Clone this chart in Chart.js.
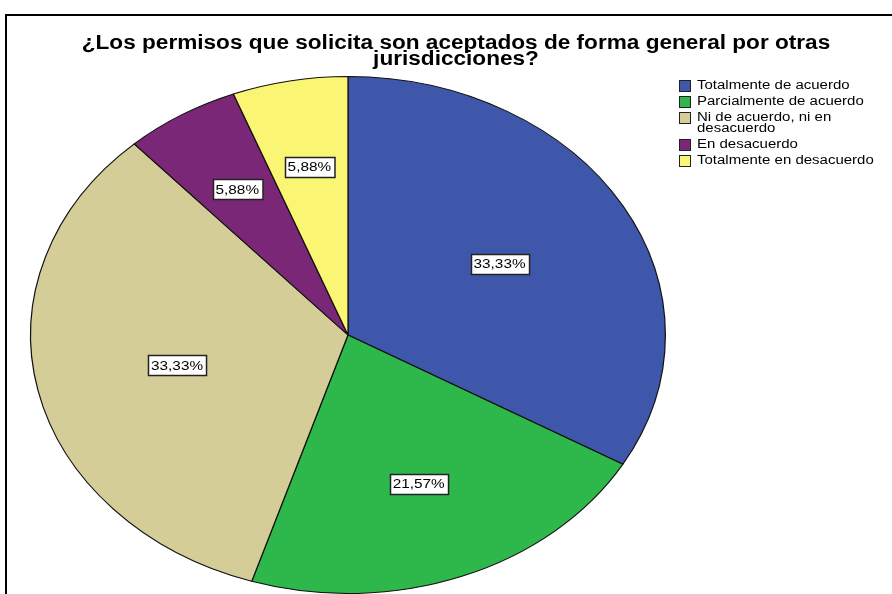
<!DOCTYPE html>
<html>
<head>
<meta charset="utf-8">
<script src="https://cdn.jsdelivr.net/npm/chart.js@4.4.0/dist/chart.umd.min.js"></script>
<style>
  body { margin: 0; background: #fff; font-family: "Liberation Sans", Arial, sans-serif; }
  #wrap { position: relative; width: 892px; height: 594px; overflow: hidden; }
  #frame { position: absolute; left: 5px; top: 14px; width: 900px; height: 600px; border-left: 2px solid #000; border-top: 2px solid #000; }
  #title { position: absolute; left: 0; width: 912px; top: 34px; text-align: center; font-weight: bold; font-size: 20px; line-height: 16px; color: #000; transform: scaleX(1.13); transform-origin: 456px 0; }
  #legend { position: absolute; left: 679px; top: 80px; font-size: 12.5px; line-height: 11px; color: #000; }
  #legend .item { position: relative; padding-left: 18px; margin-bottom: 5px; }
  #legend .txt { display: inline-block; transform: scaleX(1.2); transform-origin: 0 0; white-space: nowrap; }
  #legend .sw { position: absolute; left: 0; top: 0px; width: 12px; height: 12px; border: 1px solid #222; box-sizing: border-box; }
  canvas { position: absolute; left: 0; top: 0; }
</style>
</head>
<body>
<div id="wrap">
  <div id="frame"></div>
  <canvas id="myChart" width="892" height="594"></canvas>
  <div id="title">¿Los permisos que solicita son aceptados de forma general por otras<br>jurisdicciones?</div>
  <div id="legend"></div>
</div>
<script>
const labels = [
    'Totalmente de acuerdo',
    'Parcialmente de acuerdo',
    'Ni de acuerdo, ni en desacuerdo',
    'En desacuerdo',
    'Totalmente en desacuerdo'
];
const legendLabels = [
    'Totalmente de acuerdo',
    'Parcialmente de acuerdo',
    'Ni de acuerdo, ni en<br>desacuerdo',
    'En desacuerdo',
    'Totalmente en desacuerdo'
];
const values = [33.33, 21.57, 33.33, 5.88, 5.88];
const colors = ['#3e57ab', '#2eb84b', '#d4cd98', '#7b2777', '#fbf574'];

// SPSS draws the pie as an ellipse: stretch it horizontally
const stretchX = 318 / 259;

const ellipse = {
    id: 'ellipse',
    beforeDatasetsDraw(chart) {
        const arc = chart.getDatasetMeta(0).data[0];
        const c = chart.ctx;
        c.save();
        c.translate(arc.x, arc.y);
        c.scale(stretchX, 1);
        c.translate(-arc.x, -arc.y);
    },
    afterDatasetsDraw(chart) {
        chart.ctx.restore();
        const c = chart.ctx;
        c.font = '13px "Liberation Sans", Arial, sans-serif';
        c.textAlign = 'center';
        c.textBaseline = 'middle';
        chart.getDatasetMeta(0).data.forEach((arc, i) => {
            // label at the centroid of the slice
            const half = (arc.endAngle - arc.startAngle) / 2;
            const mid = arc.startAngle + half;
            const r = arc.outerRadius * 2 * Math.sin(half) / (3 * half);
            const x = arc.x + Math.cos(mid) * r * stretchX;
            const y = arc.y + Math.sin(mid) * r;
            const txt = values[i].toFixed(2).replace('.', ',') + '%';
            const w = c.measureText(txt).width * 1.18 + 6;
            const h = 20;
            const bx = Math.round(x - w / 2) + 0.5, by = Math.round(y - h / 2) + 0.5;
            c.fillStyle = '#fff';
            c.fillRect(bx, by, w, h);
            c.strokeStyle = '#222';
            c.lineWidth = 1.5;
            c.strokeRect(bx, by, w, h);
            c.save();
            c.translate(x, y + 1);
            c.scale(1.18, 1);
            c.fillStyle = '#000';
            c.fillText(txt, 0, 0);
            c.restore();
        });
    }
};

const ctx = document.getElementById('myChart').getContext('2d');
const chart = new Chart(ctx, {
    type: 'pie',
    data: {
        labels: labels,
        datasets: [{
            data: values,
            backgroundColor: colors,
            borderColor: '#111',
            borderWidth: 1
        }]
    },
    options: {
        responsive: false,
        animation: false,
        devicePixelRatio: 1,
        layout: { padding: { left: 89, right: 285, top: 76, bottom: 0 } },
        plugins: {
            legend: { display: false },
            tooltip: { enabled: false }
        }
    },
    plugins: [ellipse]
})

const leg = document.getElementById('legend');
legendLabels.forEach((t, i) => {
    leg.innerHTML += '<div class="item"><span class="sw" style="background:' + colors[i] + '"></span><span class="txt">' + t + '</span></div>';
});
</script>
</body>
</html>
